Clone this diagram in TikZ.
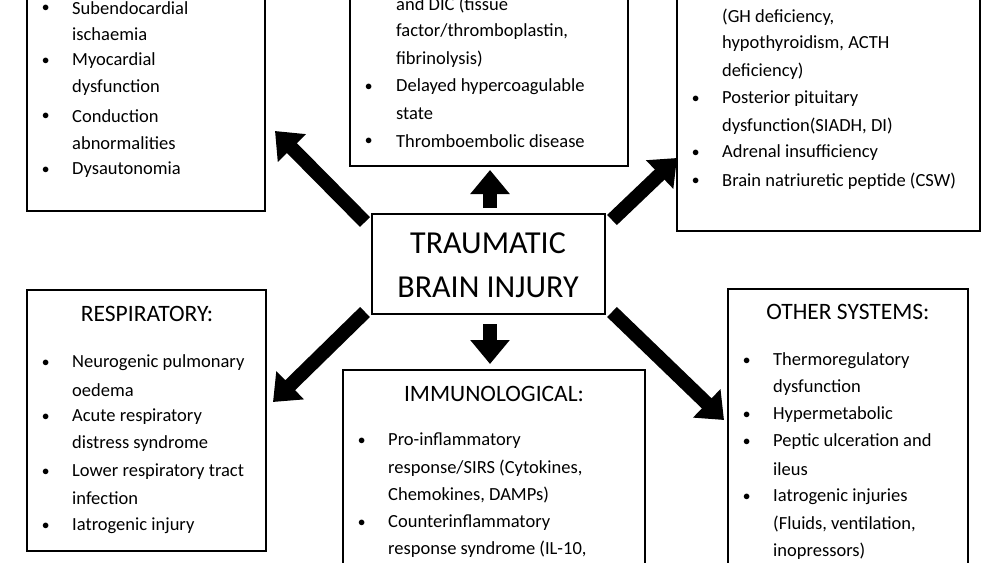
\documentclass[tikz,border=0pt]{standalone}
\usepackage{fontspec}
\setmainfont{Carlito}
\usetikzlibrary{arrows.meta}
\begin{document}
\begin{tikzpicture}[x=1pt,y=-1pt,
  box/.style={draw=black,line width=2.5pt},
  txt/.style={anchor=west,inner sep=0pt,font=\fontsize{18.5}{20}\selectfont},
  bul/.style={anchor=west,inner sep=0pt,font=\fontsize{14}{20}\selectfont},
  ttl/.style={inner sep=0pt,font=\fontsize{23.5}{26}\selectfont},
  big/.style={inner sep=0pt,font=\fontsize{32}{36}\selectfont},
  blk/.style={line width=14pt,-{Triangle[length=24pt,width=38pt]}}]
\newcommand{\Ln}[3]{\node[txt] at (#1,#2) {#3};}
\newcommand{\Bu}[2]{\node[bul] at (#1,#2) {$\bullet$};}
\path[use as bounding box] (0,0) rectangle (1000,562);
\clip (0,0) rectangle (1000,562);
% boxes
\draw[box] (27,-20) rectangle (265,211);
\draw[box] (350,-20) rectangle (628,166);
\draw[box] (677,-20) rectangle (980,231);
\draw[box] (372,214) rectangle (605,314);
\draw[box] (27,290) rectangle (266,551);
\draw[box] (343,370) rectangle (645,590);
\draw[box] (728,289) rectangle (968,590);
% center
\node[big] (c1) at (488,243) {TRAUMATIC};
\node[big] (c2) at (488,287) {BRAIN INJURY};
% top-left
\Bu{42}{8}\Ln{72}{8}{Subendocardial}\Ln{72}{34}{ischaemia}
\Bu{42}{61}\Ln{72}{61}{Myocardial}\Ln{72}{88}{dysfunction}
\Bu{42}{116}\Ln{72}{116}{Conduction}\Ln{72}{143}{abnormalities}
\Bu{42}{170}\Ln{72}{170}{Dysautonomia}
% top-middle
\Ln{396}{5}{and DIC (tissue}\Ln{396}{32}{factor/thromboplastin,}\Ln{396}{59}{fibrinolysis)}
\Bu{365}{87}\Ln{396}{87}{Delayed hypercoagulable}\Ln{396}{114}{state}
\Bu{365}{141}\Ln{396}{141}{Thromboembolic disease}
% top-right
\Ln{722}{17}{(GH deficiency,}\Ln{722}{44}{hypothyroidism, ACTH}\Ln{722}{71}{deficiency)}
\Bu{692}{99}\Ln{722}{99}{Posterior pituitary}\Ln{722}{126}{dysfunction(SIADH, DI)}
\Bu{692}{153}\Ln{722}{153}{Adrenal insufficiency}
\Bu{692}{181}\Ln{722}{181}{Brain natriuretic peptide (CSW)}
% respiratory
\node[ttl] (t1) at (147,314) {RESPIRATORY:};
\Bu{42}{363}\Ln{72}{363}{Neurogenic pulmonary}\Ln{72}{390}{oedema}
\Bu{42}{417}\Ln{72}{417}{Acute respiratory}\Ln{72}{444}{distress syndrome}
\Bu{42}{472}\Ln{72}{472}{Lower respiratory tract}\Ln{72}{498}{infection}
\Bu{42}{526}\Ln{72}{526}{Iatrogenic injury}
% immunological
\node[ttl] (t2) at (494,394) {IMMUNOLOGICAL:};
\Bu{358}{441}\Ln{388}{441}{Pro-inflammatory}\Ln{388}{468}{response/SIRS (Cytokines,}\Ln{388}{495}{Chemokines, DAMPs)}
\Bu{358}{523}\Ln{388}{523}{Counterinflammatory}\Ln{388}{549}{response syndrome (IL-10,}
% other
\node[ttl] (t3) at (848,312) {OTHER SYSTEMS:};
\Bu{743}{361}\Ln{773}{361}{Thermoregulatory}\Ln{773}{388}{dysfunction}
\Bu{743}{415}\Ln{773}{415}{Hypermetabolic}
\Bu{743}{442}\Ln{773}{442}{Peptic ulceration and}\Ln{773}{469}{ileus}
\Bu{743}{497}\Ln{773}{497}{Iatrogenic injuries}\Ln{773}{524}{(Fluids, ventilation,}\Ln{773}{551}{inopressors)}
% arrows
\coordinate (a1) at (365,222); \coordinate (b1) at (275,131);
\coordinate (a2) at (490,208); \coordinate (b2) at (490,170);
\coordinate (a3) at (612,220); \coordinate (b3) at (677,158);
\coordinate (a4) at (365,312); \coordinate (b4) at (273,402);
\coordinate (a5) at (490,324); \coordinate (b5) at (490,364);
\coordinate (a6) at (612,312); \coordinate (b6) at (724,420);
\draw[blk] (a1) -- (b1);
\draw[blk] (a2) -- (b2);
\draw[blk] (a3) -- (b3);
\draw[blk] (a4) -- (b4);
\draw[blk] (a5) -- (b5);
\draw[blk] (a6) -- (b6);
\end{tikzpicture}
\end{document}
